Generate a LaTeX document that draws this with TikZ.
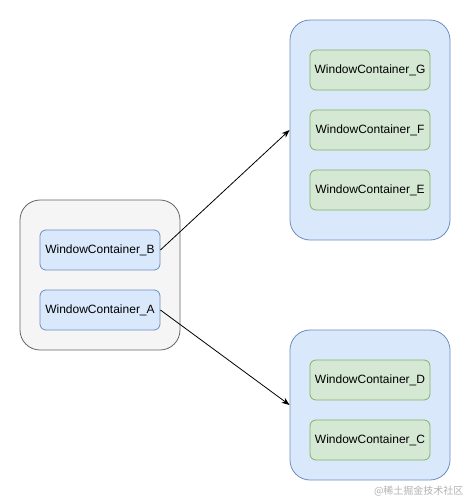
\documentclass[tikz,border=0pt]{standalone}
\usepackage{fontspec}
\setmainfont{Liberation Sans}
\newfontfamily\cjk{Noto Sans CJK SC}
\usetikzlibrary{arrows.meta}
\definecolor{grayfill}{HTML}{F5F5F5}
\definecolor{grayline}{HTML}{666666}
\definecolor{bluefill}{HTML}{DAE8FC}
\definecolor{blueline}{HTML}{6C8EBF}
\definecolor{greenfill}{HTML}{D5E8D4}
\definecolor{greenline}{HTML}{82B366}
\begin{document}
\begin{tikzpicture}[x=1pt,y=-1pt,
  outer/.style={draw=#1line, fill=#1fill, rounded corners=20pt, line width=0.8pt},
  inner/.style={draw=#1line, fill=#1fill, rounded corners=6pt, line width=0.8pt,
    minimum width=120pt, minimum height=40pt, inner sep=0pt, font=\fontsize{12}{14}\selectfont},
  conn/.style={-{Stealth[length=8pt,width=6pt]}, line width=0.8pt}
]
\useasboundingbox (0,0) rectangle (471,501);
\path[fill=white] (0,0) rectangle (471,501);
% containers
\node[outer=gray, minimum width=160pt, minimum height=150pt, inner sep=0pt] (L) at (100,275) {};
\node[outer=blue, minimum width=160pt, minimum height=220pt, inner sep=0pt] (T) at (370,130) {};
\node[outer=blue, minimum width=160pt, minimum height=150pt, inner sep=0pt] (R) at (370,405) {};
% inner nodes
\node[inner=blue] (B) at (100,250) {WindowContainer\_B};
\node[inner=blue] (A) at (100,310) {WindowContainer\_A};
\node[inner=green] (G) at (370,70) {WindowContainer\_G};
\node[inner=green] (F) at (370,130) {WindowContainer\_F};
\node[inner=green] (E) at (370,190) {WindowContainer\_E};
\node[inner=green] (D) at (370,380) {WindowContainer\_D};
\node[inner=green] (C) at (370,440) {WindowContainer\_C};
% connectors
\draw[conn] (B.east) -- (T.west);
\draw[conn] (A.east) -- (R.west);
% watermark
\node[text=black!30, font=\cjk\fontsize{10}{12}\selectfont, anchor=east] (wm) at (467,491) {@稀土掘金技术社区};
\end{tikzpicture}
\end{document}
